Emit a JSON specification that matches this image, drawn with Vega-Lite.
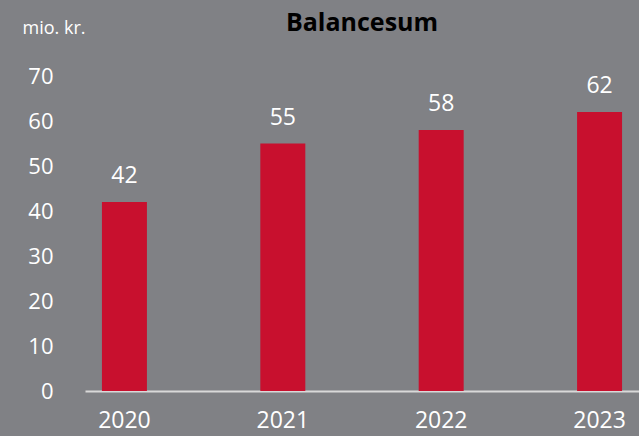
{
  "$schema": "https://vega.github.io/schema/vega-lite/v6.json",
  "width": 554,
  "height": 315,
  "autosize": "none",
  "padding": {"left": 85, "top": 76, "right": 0, "bottom": 45},
  "background": "#808185",
  "config": {
    "view": {"stroke": null},
    "font": "Open Sans"
  },
  "title": {
    "text": "Balancesum",
    "font": "Open Sans",
    "fontSize": 25,
    "fontWeight": "bold",
    "color": "#000000",
    "anchor": "middle",
    "baseline": "alphabetic",
    "offset": 0,
    "dy": 37
  },
  "data": {
    "values": [
      {"year": "2020", "value": 42},
      {"year": "2021", "value": 55},
      {"year": "2022", "value": 58},
      {"year": "2023", "value": 62}
    ]
  },
  "encoding": {
    "x": {
      "field": "year",
      "type": "nominal",
      "scale": {"paddingInner": 0.716, "paddingOuter": 0.107},
      "axis": {
        "title": null,
        "labelAngle": 0,
        "labelColor": "#ffffff",
        "labelFontSize": 23,
        "labelFont": "Open Sans",
        "labelPadding": 18,
        "ticks": false,
        "domainColor": "#D9D9D9",
        "domainWidth": 2
      }
    },
    "y": {
      "field": "value",
      "type": "quantitative",
      "scale": {"domain": [0, 70]},
      "axis": {
        "values": [0, 10, 20, 30, 40, 50, 60, 70],
        "title": "mio. kr.",
        "titleAngle": 0,
        "titleAlign": "left",
        "titleBaseline": "middle",
        "titleX": -63,
        "titleY": -48,
        "titleColor": "#ffffff",
        "titleFontSize": 18,
        "titleFontWeight": "normal",
        "titleFont": "Open Sans",
        "labelColor": "#ffffff",
        "labelFontSize": 22,
        "labelFont": "Open Sans",
        "labelPadding": 32,
        "ticks": false,
        "domain": false,
        "grid": false
      }
    }
  },
  "layer": [
    {"mark": {"type": "bar", "color": "#C8102E"}},
    {
      "mark": {"type": "text", "color": "#ffffff", "fontSize": 23, "baseline": "bottom", "dy": -14, "font": "Open Sans"},
      "encoding": {"text": {"field": "value", "type": "quantitative"}}
    }
  ]
}
